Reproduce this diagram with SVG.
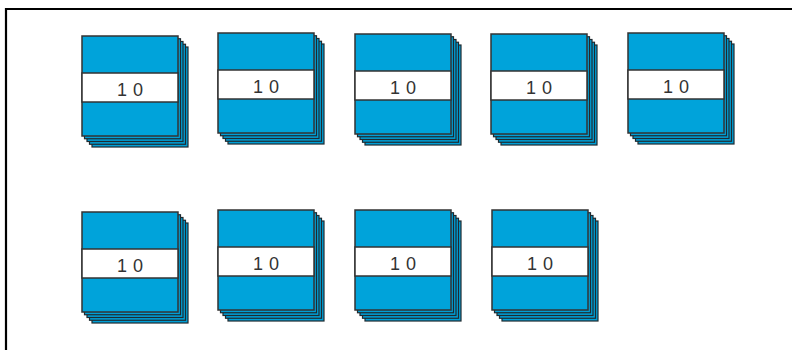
<svg xmlns="http://www.w3.org/2000/svg" width="792" height="350" viewBox="0 0 792 350">
<style>
.pg{fill:#009fd6;stroke:#1e2a30;stroke-width:1.2}
.fr{fill:#00a3da;stroke:#333;stroke-width:1.5}
.band{fill:#fff;stroke:#333;stroke-width:1.5}
.lbl{font-family:"Liberation Sans",Arial,sans-serif;font-size:18px;fill:#333;letter-spacing:6px}
</style>
<defs>
<g id="stack">
<rect class="pg" x="10" y="11" width="96" height="100"/>
<rect class="pg" x="7.5" y="8.25" width="96" height="100"/>
<rect class="pg" x="5" y="5.5" width="96" height="100"/>
<rect class="pg" x="2.5" y="2.75" width="96" height="100"/>
<rect class="fr" x="0" y="0" width="96" height="100"/>
<rect class="band" x="0" y="37" width="96" height="29"/>
<text class="lbl" x="35" y="59.5">10</text>
</g>
</defs>
<rect width="792" height="350" fill="#fff"/>
<path d="M6,352 V9 H794" fill="none" stroke="#000" stroke-width="2.2"/>
<g id="n1"><use href="#stack" x="82" y="36"/></g>
<g id="n2"><use href="#stack" x="218" y="33"/></g>
<g id="n3"><use href="#stack" x="355" y="34"/></g>
<g id="n4"><use href="#stack" x="491" y="34"/></g>
<g id="n5"><use href="#stack" x="628" y="33"/></g>
<g id="n6"><use href="#stack" x="82" y="212"/></g>
<g id="n7"><use href="#stack" x="218" y="210"/></g>
<g id="n8"><use href="#stack" x="355" y="210"/></g>
<g id="n9"><use href="#stack" x="492" y="210"/></g>
<g id="connectors"></g>
</svg>
